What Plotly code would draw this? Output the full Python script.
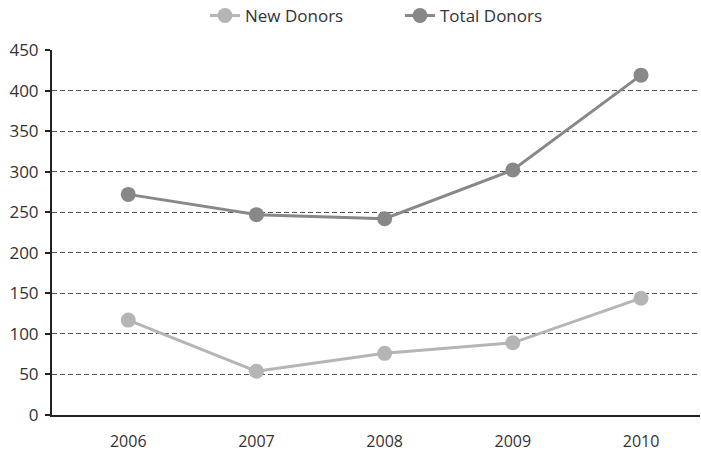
import plotly.graph_objects as go

years = ["2006", "2007", "2008", "2009", "2010"]
new_donors = [117, 54, 76, 89, 144]
total_donors = [272, 247, 242, 302, 419]
y_ticks = [0, 50, 100, 150, 200, 250, 300, 350, 400, 450]

font = "Open Sans, Arial, sans-serif"

fig = go.Figure()
fig.add_trace(go.Scatter(
    x=list(range(len(years))), y=new_donors, name="New Donors",
    mode="lines+markers",
    line=dict(color="#b5b5b7", width=3),
    marker=dict(color="#b5b5b7", size=15),
))
fig.add_trace(go.Scatter(
    x=list(range(len(years))), y=total_donors, name="Total Donors",
    mode="lines+markers",
    line=dict(color="#88888a", width=3),
    marker=dict(color="#88888a", size=15),
))

fig.update_layout(
    width=701, height=452,
    margin=dict(l=52, r=1, t=50, b=37, autoexpand=False),
    plot_bgcolor="white", paper_bgcolor="white",
    font=dict(family=font, size=17, color="#333333"),
    legend=dict(
        orientation="h", x=205 / 701, y=1 - 16 / 452, xref="container", yref="container",
        xanchor="left", yanchor="middle",
        font=dict(size=17, color="#333333"),
        entrywidth=150, traceorder="normal",
    ),
    xaxis=dict(
        tickmode="array", tickvals=list(range(len(years))), ticktext=years,
        range=[-0.595, 4.46], showgrid=False, zeroline=False,
        showline=True, linecolor="#222222", linewidth=2,
        ticks="", ticklabelstandoff=11, tickfont=dict(size=16),
    ),
    yaxis=dict(
        range=[0, 450], tickmode="array", tickvals=y_ticks,
        showgrid=True, gridcolor="#555555", griddash="5px,3px", gridwidth=1,
        zeroline=False, showline=True, linecolor="#222222", linewidth=2,
        ticks="outside", ticklen=5, tickcolor="#222222", tickwidth=2,
        ticklabelstandoff=3,
    ),
)

fig.write_html(
    "out.html",
    config={"displayModeBar": False},
    post_script="document.body.style.margin='0';document.body.style.padding='0';",
)
